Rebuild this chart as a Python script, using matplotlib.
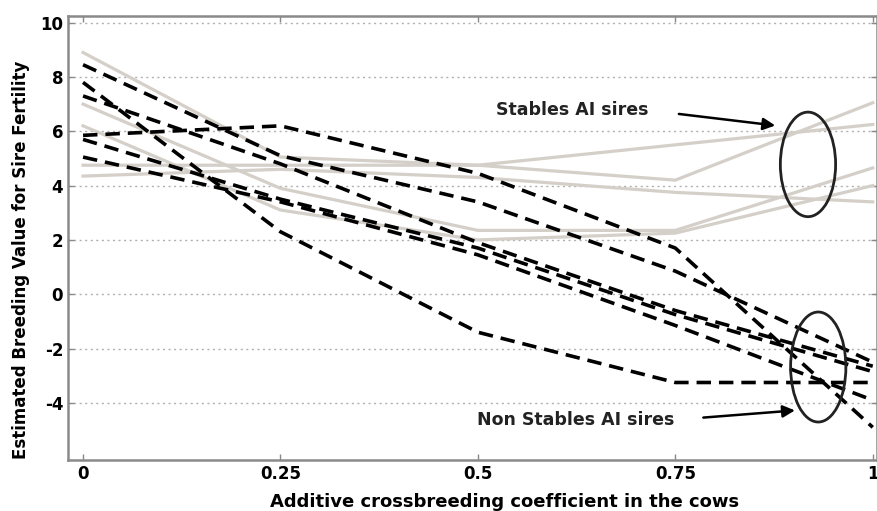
import numpy as np
import matplotlib.pyplot as plt
from matplotlib.patches import Ellipse

# crossbreeding coefficient levels
coef = [0, 0.25, 0.5, 0.75, 1]

# stable AI sires (grey)
stable_1 = [8.9, 5.05, 4.75, 4.2, 7.05]
stable_2 = [7.0, 3.9, 2.35, 2.35, 4.65]
stable_3 = [6.2, 3.1, 2.0, 2.25, 4.0]
stable_4 = [4.75, 4.75, 4.75, 5.5, 6.25]
stable_5 = [4.35, 4.6, 4.3, 3.75, 3.4]

# non stable AI sires (black dashed)
unstable_1 = [8.45, 5.1, 3.4, 0.85, -2.5]
unstable_2 = [7.8, 2.3, -1.4, -3.25, -3.25]
unstable_3 = [7.3, 4.8, 1.9, -0.6, -2.65]
unstable_4 = [5.85, 6.2, 4.45, 1.7, -4.9]
unstable_5 = [5.7, 3.5, 1.7, -0.75, -2.85]
unstable_6 = [5.05, 3.4, 1.45, -1.15, -3.9]

xticks = [0, 0.25, 0.5, 0.75, 1]
xticklabels = ['0', '0.25', '0.5', '0.75', '1']
yticks = [-4, -2, 0, 2, 4, 6, 8, 10]

plt.rcParams['font.family'] = ['DejaVu Sans']
plt.rcParams['font.weight'] = 'bold'
plt.rcParams['axes.unicode_minus'] = False

fig = plt.figure(figsize=(8.78, 5.11), dpi=100)
ax = fig.add_axes([0.0775, 0.1, 0.921, 0.869])

for s in [stable_1, stable_2, stable_3, stable_4, stable_5]:
    ax.plot(coef, s, color='#d4cfc8', lw=2.3, zorder=2)
for s in [unstable_1, unstable_2, unstable_3, unstable_4, unstable_5, unstable_6]:
    ax.plot(coef, s, color='black', lw=2.6, ls=(0, (4, 2.2)), zorder=3)

ax.set_xlim(-0.019, 1.005)
ax.set_ylim(-6.1, 10.25)
ax.set_xticks(xticks)
ax.set_xticklabels(xticklabels)
ax.set_yticks(yticks)
ax.tick_params(direction='in', length=4, width=1, color='#888888',
               labelsize=12, top=True, right=True)
for lab in ax.get_xticklabels() + ax.get_yticklabels():
    lab.set_fontweight('bold')
ax.yaxis.grid(True, ls=(0, (1.5, 2.5)), color='#b0b0b0', lw=1)
ax.set_axisbelow(True)
for sp in ax.spines.values():
    sp.set_color('#8a8a8a')
    sp.set_linewidth(1.8)

ax.set_xlabel('Additive crossbreeding coefficient in the cows',
              fontsize=13, fontweight='bold')
ax.set_ylabel('Estimated Breeding Value for Sire Fertility',
              fontsize=12, fontweight='bold')
ax.xaxis.set_label_coords(0.54, -0.075)
ax.yaxis.set_label_coords(-0.047, 0.45)

# annotations
ax.add_patch(Ellipse((0.918, 4.78), 0.07, 3.85, fill=False, ec='#222222', lw=2, zorder=4))
ax.add_patch(Ellipse((0.931, -2.68), 0.07, 4.05, fill=False, ec='#222222', lw=2, zorder=4))
ax.text(0.62, 6.8, 'Stables AI sires', fontsize=12.5, fontweight='bold',
        ha='center', va='center', color='#222222')
ax.annotate('', xy=(0.88, 6.2), xytext=(0.751, 6.65),
            arrowprops=dict(arrowstyle='-|>', color='black', lw=1.8, mutation_scale=18))
ax.text(0.624, -4.62, 'Non Stables AI sires', fontsize=12.5, fontweight='bold',
        ha='center', va='center', color='#222222')
ax.annotate('', xy=(0.905, -4.27), xytext=(0.782, -4.55),
            arrowprops=dict(arrowstyle='-|>', color='black', lw=1.8, mutation_scale=18))

fig.savefig('out.png', dpi=100)
